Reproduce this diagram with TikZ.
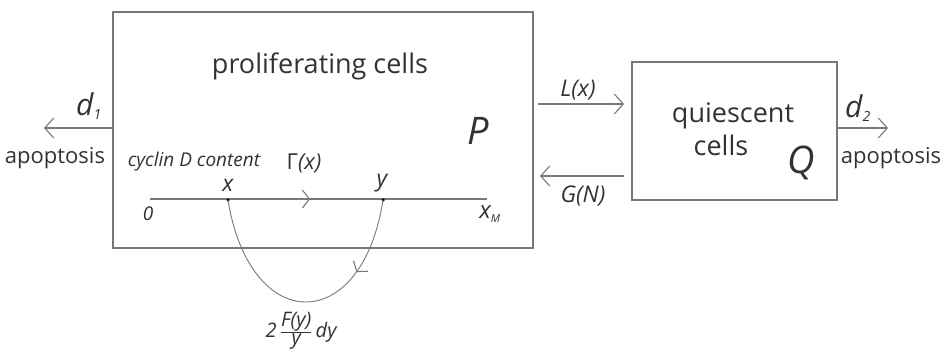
\documentclass[tikz,border=0pt]{standalone}
\usepackage{fontspec}
\usepackage{amsmath}
\setmainfont{Open Sans}
\usetikzlibrary{arrows.meta,decorations.markings}
\definecolor{ln}{RGB}{120,120,120}
\definecolor{tx}{RGB}{50,50,50}
\tikzset{
  boxst/.style={draw=ln, line width=1.8pt, inner sep=0pt},
  arr/.style={draw=ln, line width=1.1pt, -{Straight Barb[length=9pt,width=20pt,line width=1.1pt]}},
  lbl/.style={text=tx, inner sep=0pt, font=\fontsize{23}{26}\selectfont\itshape},
  txt/.style={text=tx, inner sep=0pt, font=\fontsize{27}{30}\selectfont},
  apo/.style={text=tx, inner sep=0pt, font=\fontsize{22}{25}\selectfont},
  big/.style={text=tx, inner sep=0pt, font=\fontsize{38}{42}\selectfont\itshape},
  axl/.style={text=tx, inner sep=0pt, font=\fontsize{19}{22}\selectfont\itshape},
  midarr/.style={postaction={decorate}, decoration={markings, mark=at position #1 with {\arrow{Straight Barb[length=7pt,width=18pt,line width=1.1pt]}}}},
  dotst/.style={circle, fill=black, inner sep=0pt, minimum size=3.5pt}
}
\begin{document}
\begin{tikzpicture}[x=1pt,y=-1pt]
\useasboundingbox (0,0) rectangle (945,352);
% boxes
\node[boxst, minimum width=420pt, minimum height=236pt] (P) at (323,130) {};
\node[boxst, minimum width=205pt, minimum height=138pt] (Q) at (734.5,131) {};
% texts
\node[txt] (pc) at (320,66) {proliferating cells};
\node[big] (Plab) at (478,131) {P};
\node[txt] (qc1) at (733,116) {quiescent};
\node[txt] (qc2) at (721,145) {cells};
\node[big] (Qlab) at (801,163) {Q};
% apoptosis left
\coordinate (a1) at (44,128);
\draw[arr] (P.west |- a1) -- (a1);
\node[lbl, font=\fontsize{30}{32}\selectfont\itshape] (d1) at (89,106) {d\textsubscript{\fontsize{14}{15}\selectfont 1}};
\node[apo] (ap1) at (55,158) {apoptosis};
% apoptosis right
\coordinate (a2) at (888,128);
\draw[arr] (Q.east |- a2) -- (a2);
\node[lbl, font=\fontsize{30}{32}\selectfont\itshape] (d2) at (858,108) {d\textsubscript{\fontsize{14}{15}\selectfont 2}};
\node[apo] (ap2) at (891,158) {apoptosis};
% L(x) and G(N)
\coordinate (l1) at (538,104);
\coordinate (l2) at (624,104);
\draw[arr] (l1) -- (l2);
\node[lbl] (Lx) at (578,90) {L(x)};
\coordinate (g1) at (624,176);
\coordinate (g2) at (540,176);
\draw[arr] (g1) -- (g2);
\node[lbl] (GN) at (583,196) {G(N)};
% axis
\coordinate (ax0) at (150,199);
\coordinate (axM) at (487,199);
\draw[draw=ln, line width=1.1pt, midarr=0.475] (ax0) -- (axM);
\node[axl] (zero) at (148,214) {0};
\node[axl, font=\fontsize{24}{26}\selectfont\itshape] (xM) at (490,214) {x\textsubscript{\fontsize{11}{12}\selectfont M}};
\node[dotst] (xd) at (228,200) {};
\node[dotst] (yd) at (383,200) {};
\node[axl, font=\fontsize{23}{26}\selectfont\itshape] (xl) at (228,185) {x};
\node[axl, font=\fontsize{23}{26}\selectfont\itshape] (yl) at (382,183) {y};
\node[axl, font=\fontsize{22}{24}\selectfont\itshape] (gam) at (304,163) {{\upshape Γ}(x)};
\node[text=tx, inner sep=0pt, font=\fontsize{19}{21}\selectfont\itshape] (cyc) at (194,162) {cyclin D content};
% curve
\draw[draw=ln, line width=0.9pt, midarr=0.28] (yd.center) .. controls (362,336) and (250,336) .. (xd.center);
\node[text=tx, inner sep=0pt, font=\fontsize{20}{22}\selectfont\itshape] (frac) at (301,331) {2\,$\genfrac{}{}{0.8pt}{1}{\mbox{\itshape F(y)}}{\mbox{\itshape y}}$\,dy};
\end{tikzpicture}
\end{document}
